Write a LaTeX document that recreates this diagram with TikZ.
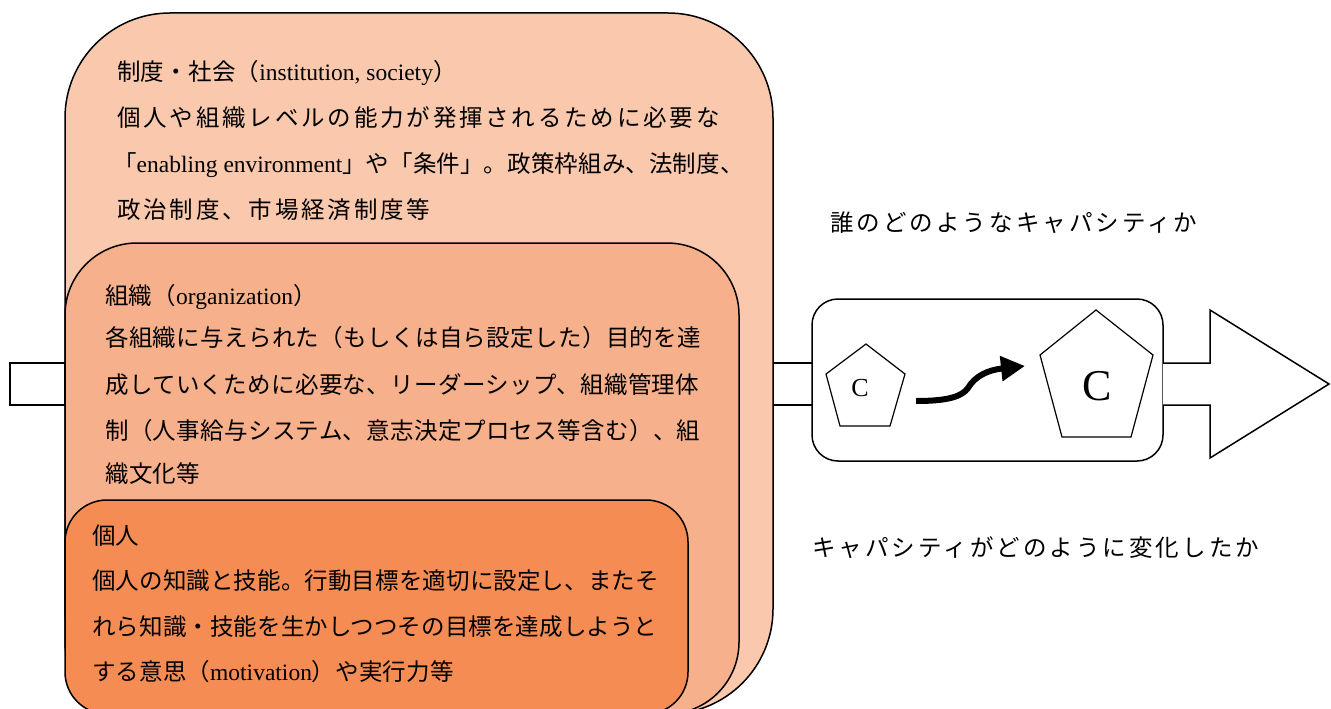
\documentclass[tikz,border=0pt]{standalone}
\usepackage{fontspec}
\setmainfont{Liberation Serif}
\newfontfamily\jp{Noto Sans CJK JP}
\newcommand\en[1]{{\rmfamily #1}}
\usetikzlibrary{arrows.meta}
\definecolor{instfill}{HTML}{FAC8AD}
\definecolor{orgfill}{HTML}{F7B08C}
\definecolor{indfill}{HTML}{F58C54}
\begin{document}
\begin{tikzpicture}[x=1pt,y=-1pt,
  outline/.style={draw=black,line width=1.5pt},
  ln/.style={anchor=base west,inner sep=0pt,
    font=\jp\fontsize{23.5}{28}\selectfont\addfontfeatures{LetterSpace=#1}},
  letter/.style={inner sep=0pt,font=\rmfamily\fontsize{#1}{#1}\selectfont}]
\useasboundingbox (0,0) rectangle (1331,709);
% left stub
\draw[outline,fill=white] (10,363) rectangle (65,405);
% nested boxes
\draw[outline,fill=instfill,rounded corners=105pt] (65,13) rectangle (773,714);
\draw[outline,fill=orgfill,rounded corners=72pt] (65,243) rectangle (739,714);
\draw[outline,fill=indfill,rounded corners=42pt] (65,500) rectangle (688,714);
% institution text
\node[ln=1] (i0) at (117,81) {制度・社会（\en{institution, society}）};
\node[ln=12] (i1) at (117,126) {個人や組織レベルの能力が発揮されるために必要な};
\node[ln=0.5] (i2) at (113,172) {「\en{enabling environment}」や「条件」。政策枠組み、法制度、};
\node[ln=12] (i3) at (117,218) {政治制度、市場経済制度等};
% organization text
\node[ln=1] (o0) at (105,304) {組織（\en{organization}）};
\node[ln=1.5] (o1) at (105,346) {各組織に与えられた（もしくは自ら設定した）目的を達};
\node[ln=1.5] (o2) at (105,393) {成していくために必要な、リーダーシップ、組織管理体};
\node[ln=1.5] (o3) at (105,439) {制（人事給与システム、意志決定プロセス等含む）、組};
\node[ln=1.5] (o4) at (105,482) {織文化等};
% individual text
\node[ln=0.5] (p0) at (92,544) {個人};
\node[ln=0.5] (p1) at (92,589) {個人の知識と技能。行動目標を適切に設定し、またそ};
\node[ln=0.5] (p2) at (92,635) {れら知識・技能を生かしつつその目標を達成しようと};
\node[ln=0.5] (p3) at (92,680) {する意思（\en{motivation}）や実行力等};
% right block arrow
\draw[outline] (773,363) -- (812,363);
\draw[outline] (773,405) -- (812,405);
\draw[outline,fill=white,rounded corners=26pt] (812,299) rectangle (1163,461);
\draw[outline,fill=white] (1163,363) -- (1210,363) -- (1210,310) -- (1329,384)
  -- (1210,458) -- (1210,405) -- (1163,405);
% pentagons
\draw[outline,line width=1.2pt,line join=miter] (866,344) -- (905,374) -- (890,426) -- (840,426) -- (826,374) -- cycle;
\draw[outline,line width=1.2pt,line join=miter] (1096,310) -- (1153,355) -- (1131,437) -- (1062,437) -- (1040,355) -- cycle;
\node[letter=26] (c1) at (860,388) {C};
\node[letter=44] (c2) at (1097,386) {C};
\coordinate (a1) at (916,401);
\coordinate (a2) at (1025,366);
\draw[line width=6pt,-{Triangle[length=24pt,width=24pt]}] (a1) .. controls (950,401) and (962,396) .. (968,388)
  .. controls (975,376) and (988,370) .. (a2);
% labels
\node[ln=13] (q1) at (830,231) {誰のどのようなキャパシティか};
\node[ln=13] (q2) at (812,556) {キャパシティがどのように変化したか};
\end{tikzpicture}
\end{document}
